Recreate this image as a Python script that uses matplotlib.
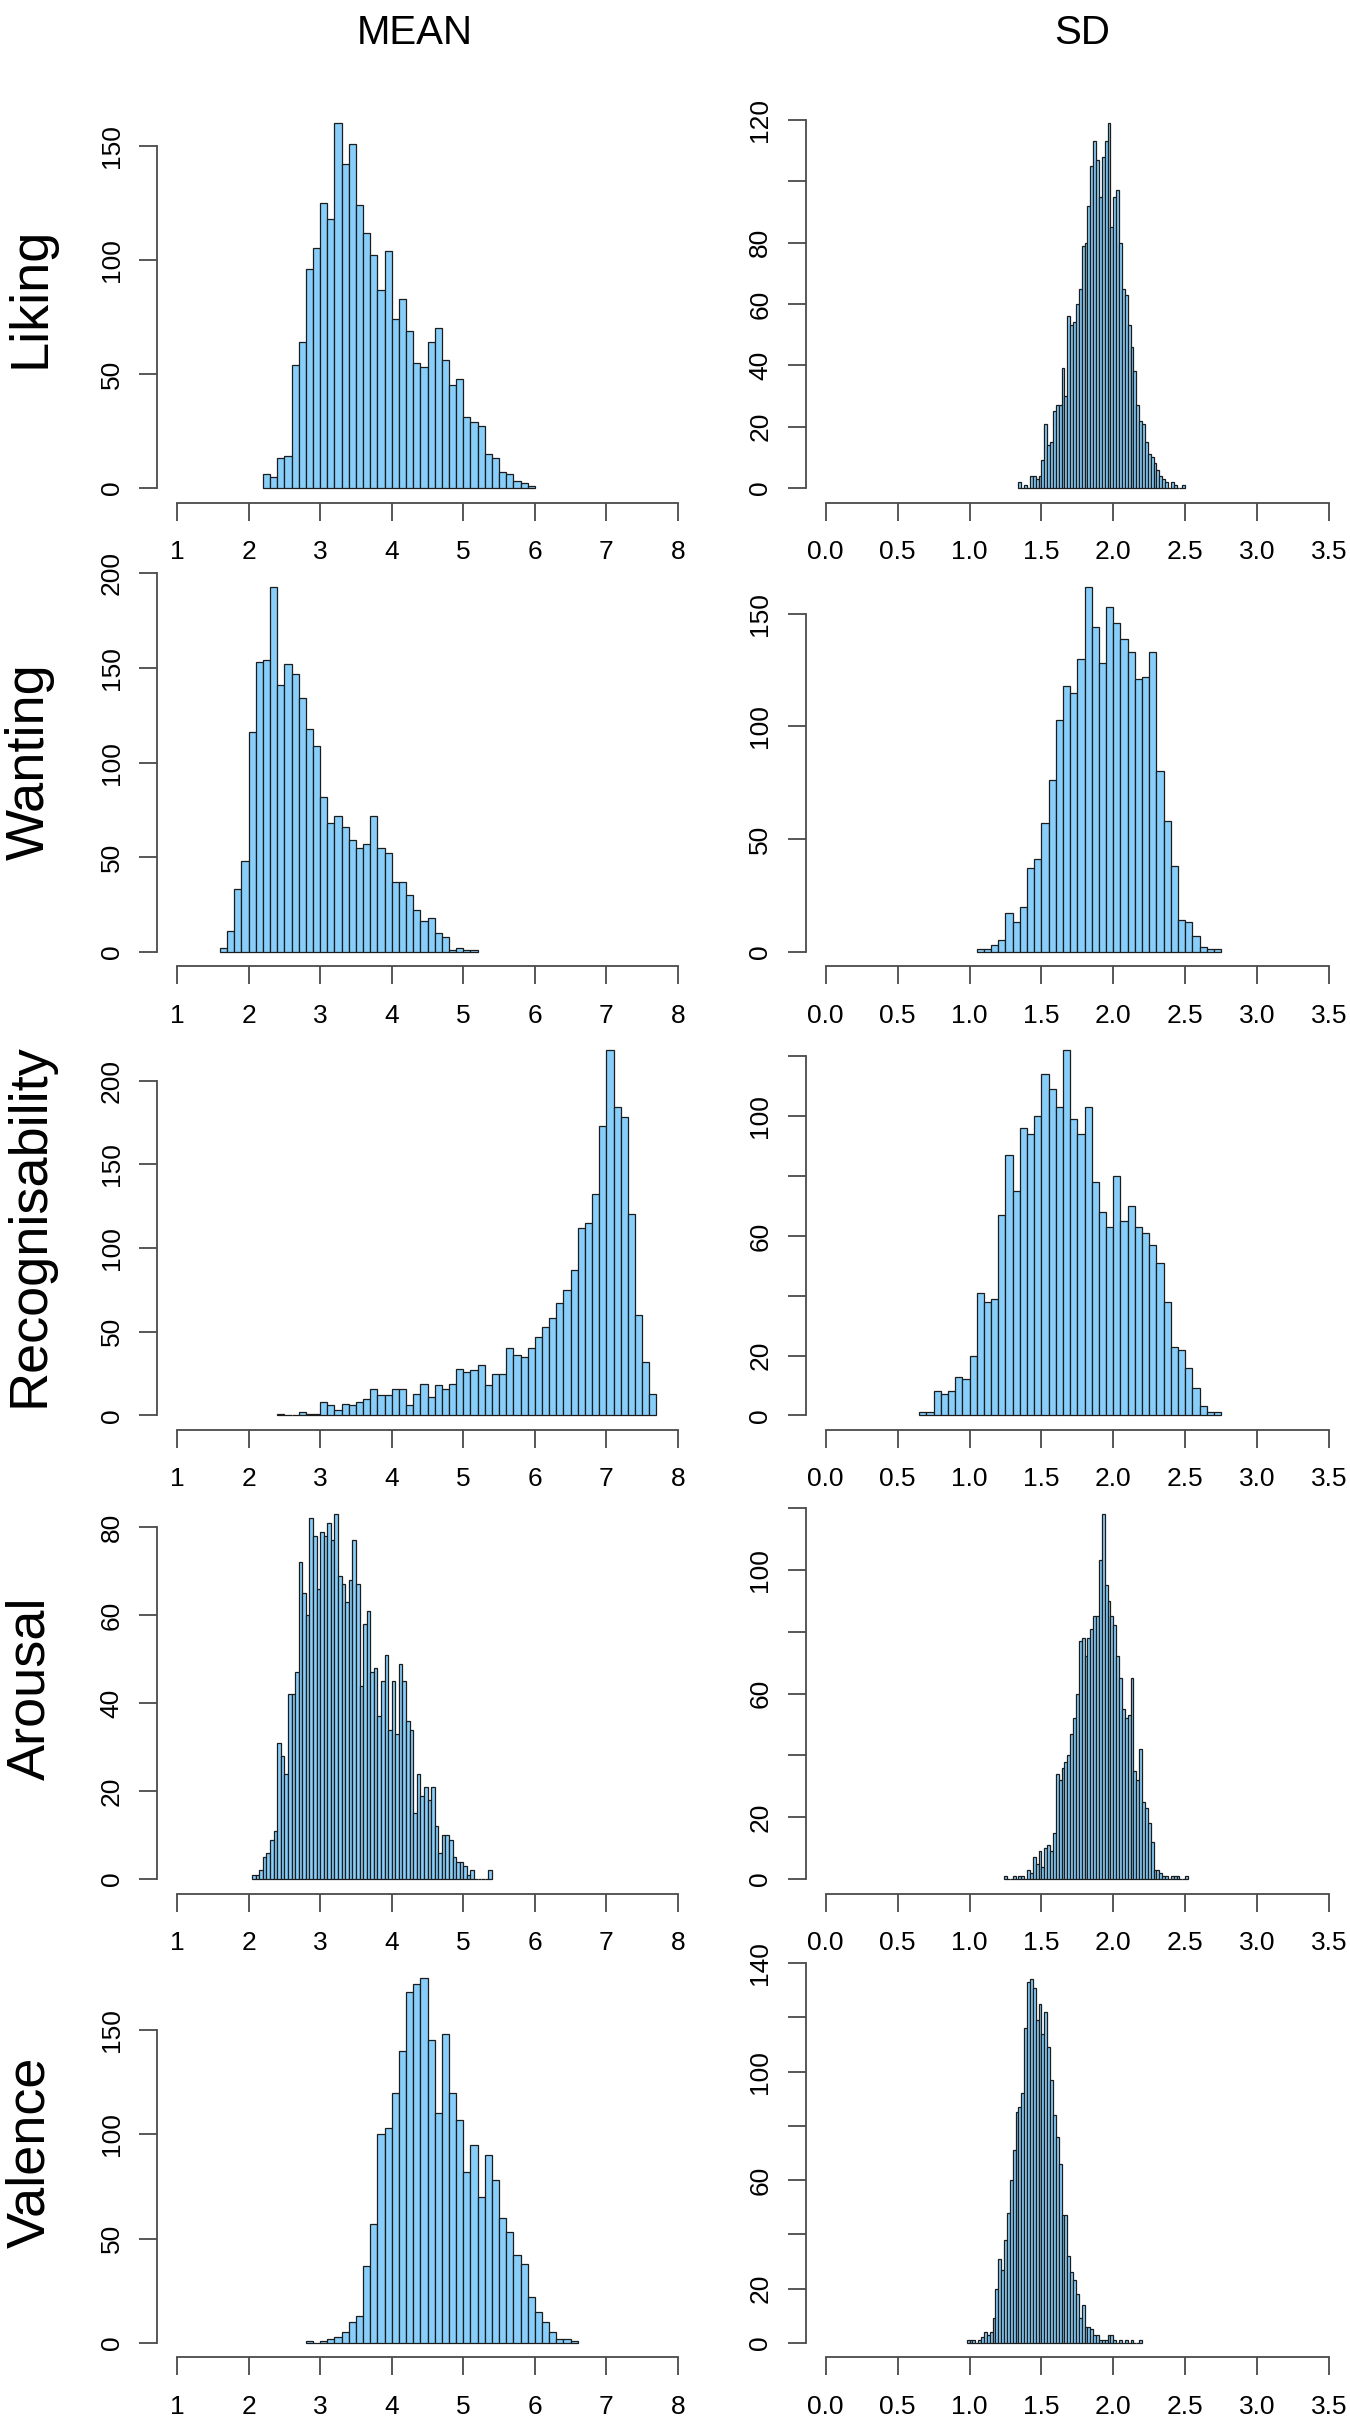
import matplotlib
matplotlib.use('Agg')
import matplotlib.pyplot as plt
import numpy as np

plt.rcParams['font.family'] = ['Liberation Sans', 'DejaVu Sans']

# ---------------- data ----------------
row_names = ['Liking', 'Wanting', 'Recognisability', 'Arousal', 'Valence']
col_titles = ['MEAN', 'SD']

mean_xticks = [1, 2, 3, 4, 5, 6, 7, 8]
sd_xticks = [0.0, 0.5, 1.0, 1.5, 2.0, 2.5, 3.0, 3.5]
sd_xticklabels = ['0.0', '0.5', '1.0', '1.5', '2.0', '2.5', '3.0', '3.5']

# Liking
liking_mean_start, liking_mean_width = 2.2, 0.1
liking_mean_counts = [6, 5, 13, 14, 54, 64, 96, 105, 125, 118, 160, 142, 151, 124, 112, 102,
                      87, 104, 74, 83, 69, 55, 53, 64, 70, 56, 45, 48, 31, 29, 27, 15, 13, 7,
                      6, 3, 2, 1]
liking_mean_yticks = [0, 50, 100, 150]
liking_mean_ylabels = ['0', '50', '100', '150']

liking_sd_start, liking_sd_width = 1.34, 0.02
liking_sd_counts = [2, 0, 1, 0, 4, 4, 3, 4, 9, 21, 14, 15, 25, 27, 27, 39, 30, 56, 53, 54,
                    60, 65, 79, 80, 92, 105, 113, 107, 95, 108, 113, 119, 85, 95, 97, 80, 65,
                    63, 53, 46, 38, 27, 22, 21, 15, 11, 10, 8, 6, 4, 3, 2, 0, 2, 1, 0, 0, 1]
liking_sd_yticks = [0, 20, 40, 60, 80, 100, 120]
liking_sd_ylabels = ['0', '20', '40', '60', '80', '', '120']

# Wanting
wanting_mean_start, wanting_mean_width = 1.6, 0.1
wanting_mean_counts = [2, 11, 33, 48, 116, 153, 154, 193, 141, 152, 147, 134, 118, 109, 82,
                       68, 72, 66, 59, 55, 57, 72, 55, 52, 37, 37, 30, 22, 16, 18, 10, 8, 1,
                       2, 1, 1]
wanting_mean_yticks = [0, 50, 100, 150, 200]
wanting_mean_ylabels = ['0', '50', '100', '150', '200']

wanting_sd_start, wanting_sd_width = 1.05, 0.05
wanting_sd_counts = [1, 1, 3, 5, 17, 13, 20, 37, 41, 57, 76, 103, 118, 115, 130, 162, 144,
                     128, 153, 146, 139, 133, 121, 122, 133, 80, 58, 38, 14, 13, 7, 2, 1, 1]
wanting_sd_yticks = [0, 50, 100, 150]
wanting_sd_ylabels = ['0', '50', '100', '150']

# Recognisability
recog_mean_start, recog_mean_width = 2.4, 0.1
recog_mean_counts = [1, 0, 0, 2, 1, 1, 8, 6, 3, 7, 6, 8, 10, 16, 12, 12, 16, 16, 6, 13, 19,
                     11, 18, 16, 19, 28, 26, 27, 30, 18, 25, 25, 40, 36, 35, 40, 47, 53, 58,
                     67, 75, 87, 112, 115, 132, 173, 218, 184, 178, 120, 60, 32, 13]
recog_mean_yticks = [0, 50, 100, 150, 200]
recog_mean_ylabels = ['0', '50', '100', '150', '200']

recog_sd_start, recog_sd_width = 0.65, 0.05
recog_sd_counts = [1, 1, 8, 7, 8, 13, 12, 20, 41, 38, 39, 67, 87, 75, 96, 94, 100, 114, 109,
                   103, 122, 99, 94, 103, 78, 68, 63, 80, 65, 70, 63, 61, 57, 51, 38, 23, 22,
                   16, 9, 3, 1, 1]
recog_sd_yticks = [0, 20, 40, 60, 80, 100, 120]
recog_sd_ylabels = ['0', '20', '', '60', '', '100', '']

# Arousal
arousal_mean_start, arousal_mean_width = 2.05, 0.05
arousal_mean_counts = [1, 1, 2, 5, 6, 9, 11, 31, 28, 24, 42, 42, 47, 72, 65, 60, 82, 78, 66,
                       79, 78, 81, 77, 83, 69, 67, 63, 68, 77, 67, 44, 58, 61, 47, 48, 37, 45,
                       51, 34, 45, 33, 49, 45, 36, 34, 15, 24, 19, 21, 18, 21, 12, 6, 10, 10,
                       9, 5, 4, 4, 3, 1, 2, 0, 0, 0, 0, 2]
arousal_mean_yticks = [0, 20, 40, 60, 80]
arousal_mean_ylabels = ['0', '20', '40', '60', '80']

arousal_sd_start, arousal_sd_width = 1.24, 0.02
arousal_sd_counts = [1, 0, 0, 1, 0, 1, 1, 0, 3, 2, 7, 5, 9, 4, 10, 11, 9, 15, 34, 32, 36, 38,
                     40, 47, 52, 60, 77, 78, 72, 78, 81, 85, 85, 103, 118, 95, 90, 85, 82, 72,
                     65, 55, 52, 53, 65, 35, 32, 42, 25, 23, 18, 12, 3, 3, 2, 1, 1, 0, 1, 1,
                     1, 0, 0, 1]
arousal_sd_yticks = [0, 20, 40, 60, 80, 100, 120]
arousal_sd_ylabels = ['0', '20', '', '60', '', '100', '']

# Valence
valence_mean_start, valence_mean_width = 2.8, 0.1
valence_mean_counts = [1, 0, 1, 2, 3, 5, 10, 13, 37, 57, 100, 103, 120, 140, 168, 172, 175,
                       145, 110, 148, 120, 107, 82, 95, 70, 90, 78, 60, 53, 42, 38, 22, 15,
                       10, 5, 2, 2, 1]
valence_mean_yticks = [0, 50, 100, 150]
valence_mean_ylabels = ['0', '50', '100', '150']

valence_sd_start, valence_sd_width = 0.98, 0.02
valence_sd_counts = [1, 1, 1, 0, 1, 2, 4, 3, 4, 9, 20, 31, 27, 38, 48, 60, 71, 85, 87, 92,
                     116, 133, 134, 131, 119, 125, 114, 122, 109, 97, 84, 76, 66, 47, 47, 32,
                     26, 23, 18, 9, 14, 6, 6, 5, 3, 3, 1, 1, 1, 3, 3, 1, 0, 1, 0, 1, 0, 1, 0,
                     0, 1]
valence_sd_yticks = [0, 20, 40, 60, 80, 100, 120, 140]
valence_sd_ylabels = ['0', '20', '', '60', '', '100', '', '140']

panels = [
    [(liking_mean_start, liking_mean_width, liking_mean_counts, liking_mean_yticks, liking_mean_ylabels),
     (liking_sd_start, liking_sd_width, liking_sd_counts, liking_sd_yticks, liking_sd_ylabels)],
    [(wanting_mean_start, wanting_mean_width, wanting_mean_counts, wanting_mean_yticks, wanting_mean_ylabels),
     (wanting_sd_start, wanting_sd_width, wanting_sd_counts, wanting_sd_yticks, wanting_sd_ylabels)],
    [(recog_mean_start, recog_mean_width, recog_mean_counts, recog_mean_yticks, recog_mean_ylabels),
     (recog_sd_start, recog_sd_width, recog_sd_counts, recog_sd_yticks, recog_sd_ylabels)],
    [(arousal_mean_start, arousal_mean_width, arousal_mean_counts, arousal_mean_yticks, arousal_mean_ylabels),
     (arousal_sd_start, arousal_sd_width, arousal_sd_counts, arousal_sd_yticks, arousal_sd_ylabels)],
    [(valence_mean_start, valence_mean_width, valence_mean_counts, valence_mean_yticks, valence_mean_ylabels),
     (valence_sd_start, valence_sd_width, valence_sd_counts, valence_sd_yticks, valence_sd_ylabels)],
]

# ---------------- layout ----------------
W, H = 1350, 2424
fig = plt.figure(figsize=(W / 100, H / 100), dpi=100)
fig.patch.set_facecolor('white')

col_x0 = [157.0, 805.6]
col_w = [541.0, 543.5]
row_top0, row_step, row_h = 108.4, 463.7, 394.2

axis_color = '#4a4a4a'
bar_face = '#87CEFA'
bar_edge = '#1c1c1c'

for r in range(5):
    top = row_top0 + r * row_step
    for c in range(2):
        start, width, counts, yt, yl = panels[r][c]
        ax = fig.add_axes([col_x0[c] / W, 1 - (top + row_h) / H, col_w[c] / W, row_h / H])
        counts = np.asarray(counts, dtype=float)
        edges = start + width * np.arange(len(counts))
        ax.bar(edges, counts, width=width, align='edge', color=bar_face,
               edgecolor=bar_edge, linewidth=0.9)
        M = counts.max()
        ax.set_ylim(-0.04 * M, 1.04 * M)
        if c == 0:
            xt = mean_xticks
            xl = [str(v) for v in mean_xticks]
        else:
            xt = sd_xticks
            xl = sd_xticklabels
        span = xt[-1] - xt[0]
        ax.set_xlim(xt[0] - 0.04 * span, xt[-1] + 0.04 * span)
        ax.set_xticks(xt)
        ax.set_xticklabels(xl)
        ax.set_yticks(yt)
        ax.set_yticklabels(yl)
        for s in ['top', 'right']:
            ax.spines[s].set_visible(False)
        ax.spines['bottom'].set_bounds(xt[0], xt[-1])
        ax.spines['left'].set_bounds(yt[0], yt[-1])
        for s in ['bottom', 'left']:
            ax.spines[s].set_color(axis_color)
            ax.spines[s].set_linewidth(1.3)
        ax.tick_params(axis='both', direction='out', length=13, width=1.3,
                       color=axis_color, labelsize=19, labelcolor='black')
        ax.tick_params(axis='x', pad=14)
        ax.tick_params(axis='y', pad=11)
        for lab in ax.get_yticklabels():
            lab.set_rotation(90)
            lab.set_va('center')
            lab.set_ha('right')
        ax.set_facecolor('none')
    fig.text(30 / W, 1 - (top + row_h / 2 - 8) / H, row_names[r], rotation=90,
             fontsize=39, ha='center', va='center')

fig.text(415.0 / W, 1 - 33 / H, col_titles[0], fontsize=29, ha='center', va='center')
fig.text(1082.0 / W, 1 - 33 / H, col_titles[1], fontsize=29, ha='center', va='center')

fig.savefig('out.png', dpi=100, facecolor='white')
